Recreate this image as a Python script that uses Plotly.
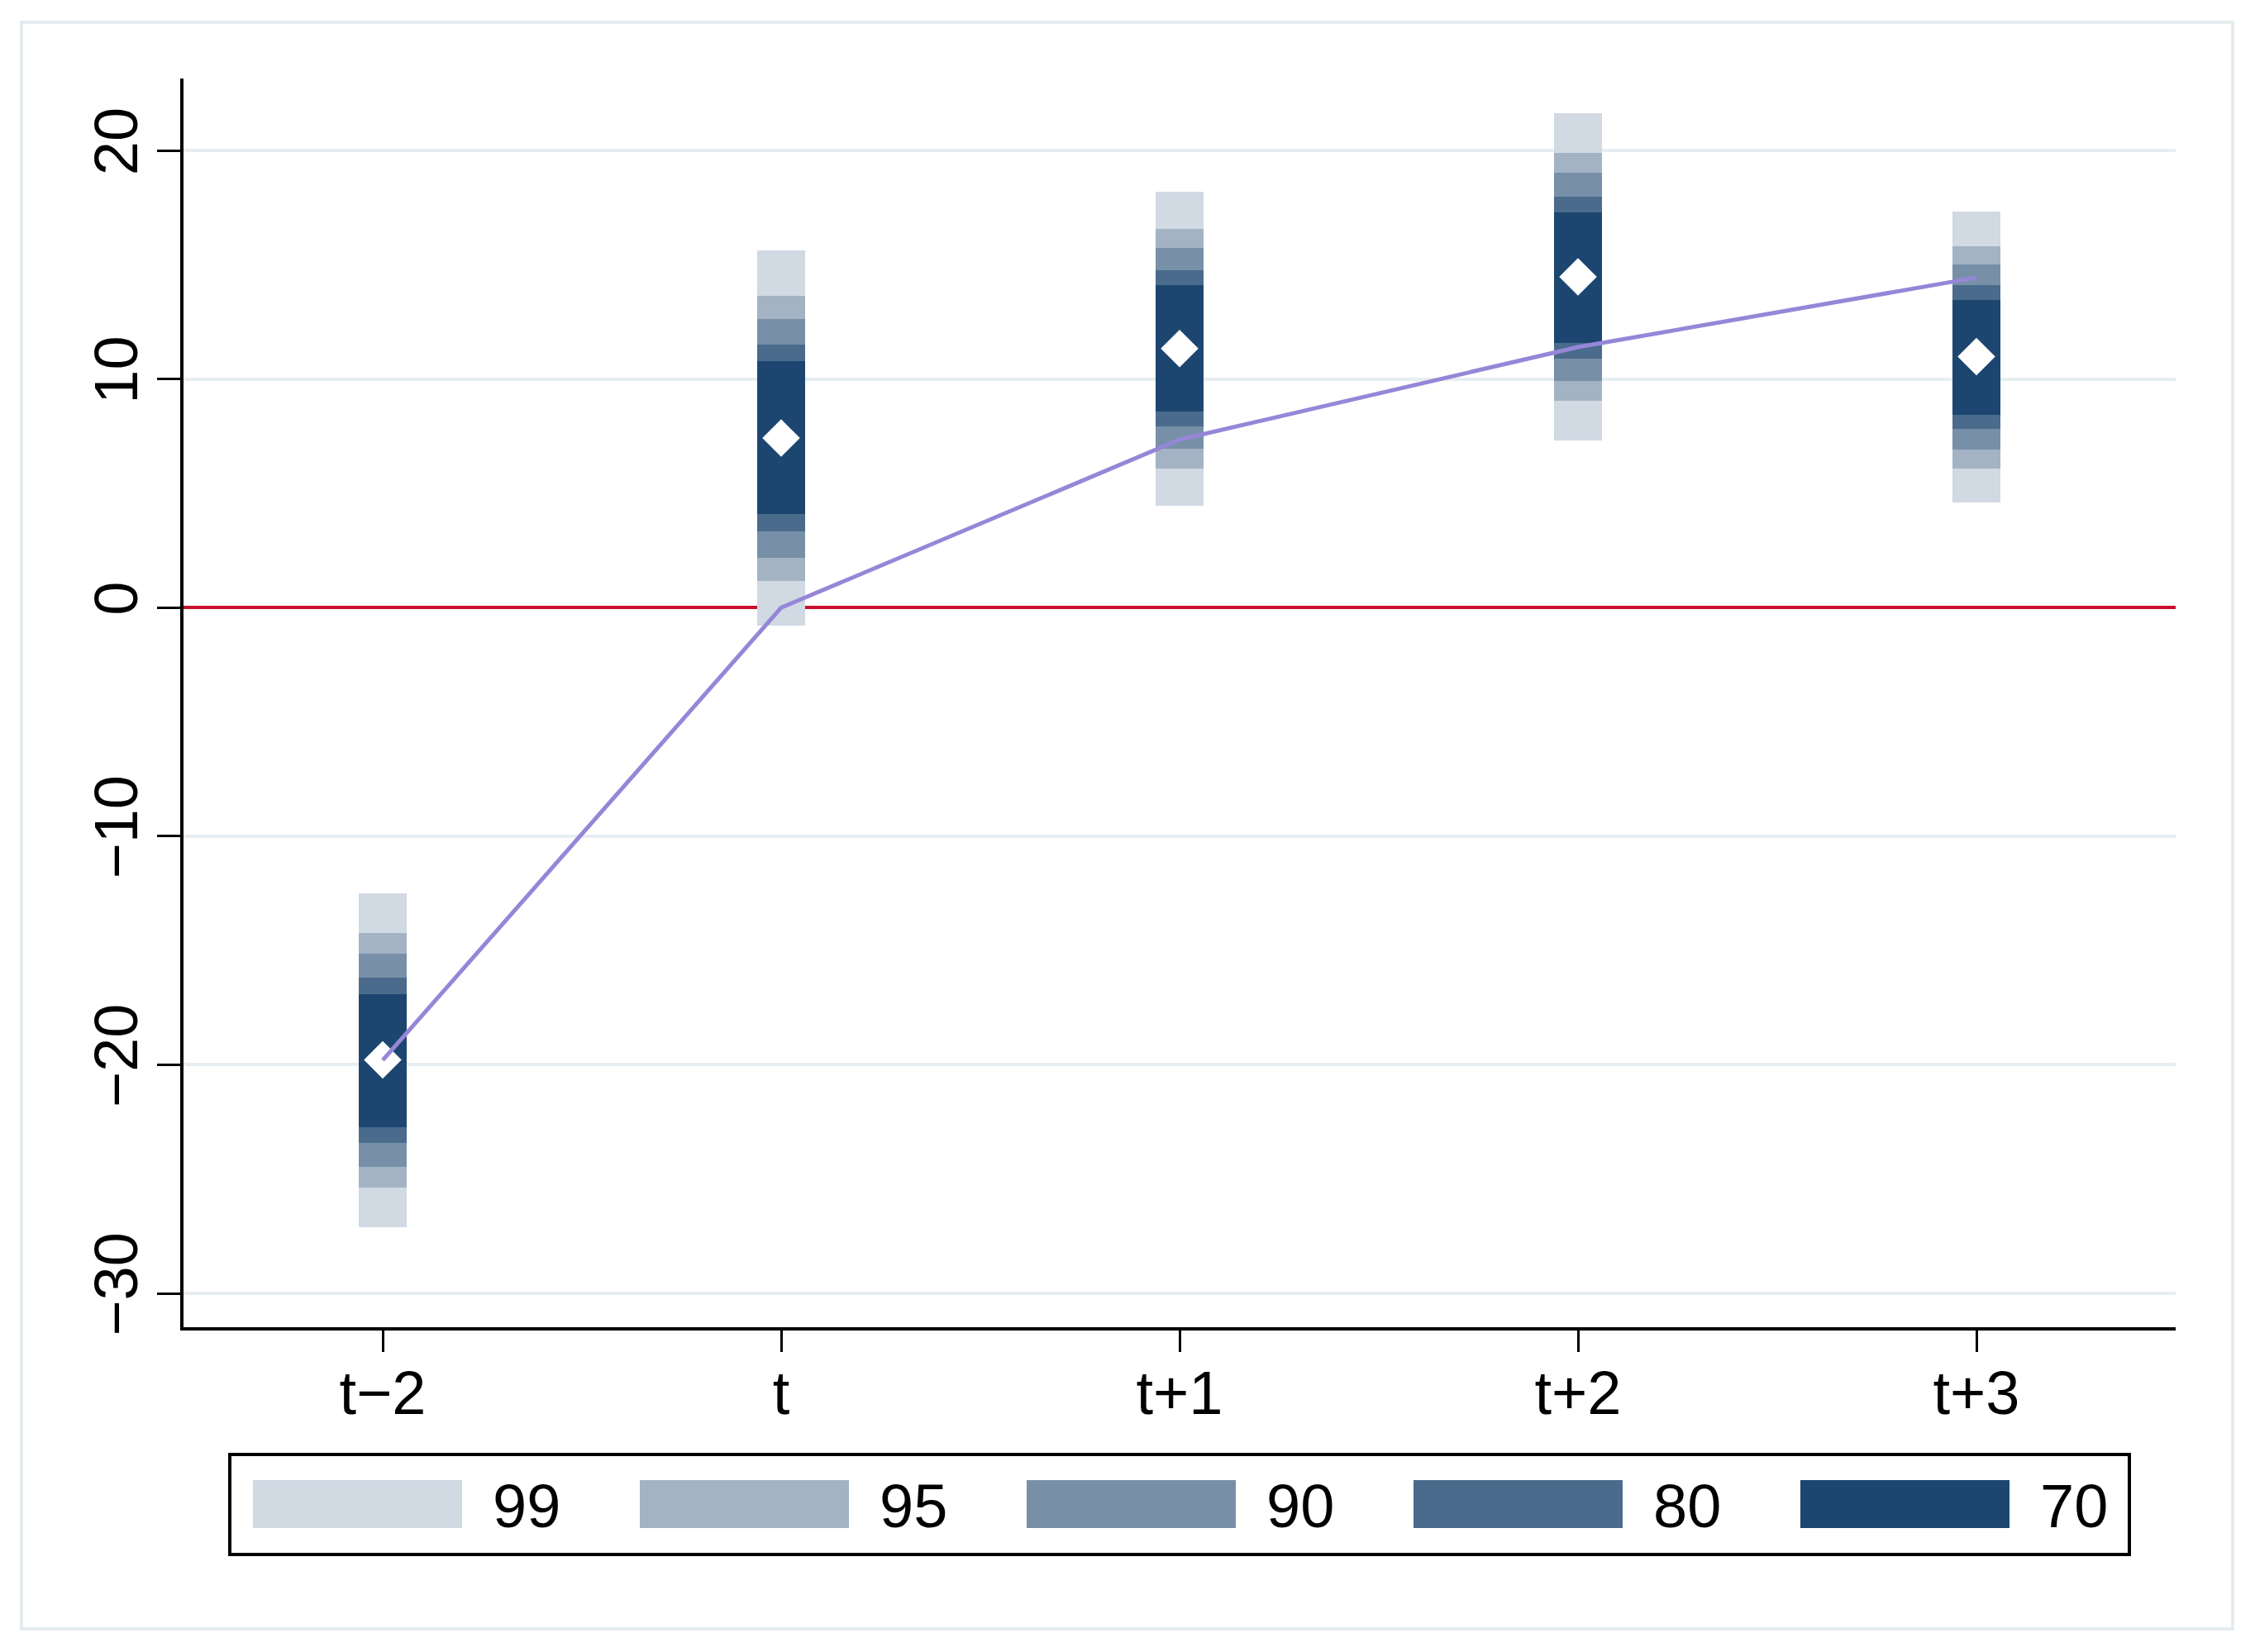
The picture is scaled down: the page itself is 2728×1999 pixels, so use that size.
import plotly.graph_objects as go

# ---- data ----
periods = ["t−2", "t", "t+1", "t+2", "t+3"]
levels = ["99", "95", "90", "80", "70"]
band_colors = ["#d1d9e3", "#a3b3c3", "#7790a8", "#4a6b8b", "#1c4670"]

lo99 = [-27.10, -0.77, 4.47, 7.30, 4.59]
hi99 = [-12.49, 15.64, 18.21, 21.62, 17.33]
lo95 = [-25.36, 1.16, 6.07, 9.05, 6.10]
hi95 = [-14.23, 13.65, 16.58, 19.90, 15.80]
lo90 = [-24.45, 2.18, 6.94, 9.93, 6.91]
hi90 = [-15.14, 12.63, 15.74, 19.02, 15.01]
lo80 = [-23.43, 3.35, 7.93, 10.91, 7.81]
hi80 = [-16.17, 11.52, 14.77, 17.97, 14.11]
lo70 = [-22.73, 4.11, 8.57, 11.58, 8.45]
hi70 = [-16.90, 10.77, 14.11, 17.30, 13.47]

coef = [-19.78, 7.42, 11.34, 14.47, 10.98]
path = [-19.80, 0.00, 7.35, 11.40, 14.44]

y_ticks = [-30, -20, -10, 0, 10, 20]

# ---- layout geometry (page pixels; the page body adds an 8px offset) ----
OFF = 8
W, H = 2728 - OFF, 1999 - OFF
L, R, T, B = 222 - OFF, 2632 - OFF, 95 - OFF, 1606 - OFF
FONT = "Liberation Sans, Arial, Helvetica, sans-serif"

xs = list(range(len(periods)))
bands = [(lo99, hi99), (lo95, hi95), (lo90, hi90), (lo80, hi80), (lo70, hi70)]

fig = go.Figure()

for (lo, hi), col, lev in zip(bands, band_colors, levels):
    fig.add_trace(go.Bar(
        x=xs, y=[h - l for l, h in zip(lo, hi)], base=lo,
        width=0.12, marker=dict(color=col, line=dict(width=0)),
        name=lev, showlegend=False,
    ))

fig.add_trace(go.Scatter(
    x=xs, y=coef, mode="markers",
    marker=dict(symbol="diamond", size=35, color="white", line=dict(width=0)),
    showlegend=False,
))
fig.add_trace(go.Scatter(
    x=xs, y=path, mode="lines",
    line=dict(color="#9686d8", width=5),
    showlegend=False,
))


def px_x(p):
    return (p - OFF - L) / (R - L)


def px_y(p):
    return (B - (p - OFF)) / (B - T)


# outer frame
fig.add_shape(type="rect", xref="paper", yref="paper",
              x0=px_x(26), x1=px_x(2701), y0=px_y(1971), y1=px_y(27),
              line=dict(color="#e4ecef", width=4), layer="below")

# legend box with wide swatches
fig.add_shape(type="rect", xref="paper", yref="paper",
              x0=px_x(278), x1=px_x(2576), y0=px_y(1881), y1=px_y(1760),
              line=dict(color="black", width=4))
for i, (lev, col) in enumerate(zip(levels, band_colors)):
    x0 = 306 + i * 468
    fig.add_shape(type="rect", xref="paper", yref="paper",
                  x0=px_x(x0), x1=px_x(x0 + 253), y0=px_y(1849), y1=px_y(1791),
                  line=dict(width=0), fillcolor=col)
    fig.add_annotation(xref="paper", yref="paper", x=px_x(x0 + 331), y=px_y(1822),
                       text=lev, showarrow=False, xanchor="center", yanchor="middle",
                       font=dict(size=74, color="black", family=FONT))

fig.update_layout(
    width=W, height=H,
    margin=dict(l=L, r=W - R, t=T, b=H - B),
    plot_bgcolor="white", paper_bgcolor="white",
    barmode="overlay", bargap=0,
    font=dict(family=FONT, color="black"),
    showlegend=False,
)
fig.update_xaxes(
    range=[-0.5, 4.5], tickvals=xs, ticktext=periods,
    showline=True, linecolor="black", linewidth=4,
    ticks="outside", ticklen=26, tickwidth=3, tickcolor="black",
    showgrid=False, zeroline=False, ticklabelstandoff=-14,
    tickfont=dict(size=74, family=FONT, color="black"),
)
fig.update_yaxes(
    range=[-31.48, 23.15], tickvals=y_ticks, tickangle=-90,
    showline=True, linecolor="black", linewidth=4,
    ticks="outside", ticklen=28, tickwidth=3, tickcolor="black",
    showgrid=True, gridcolor="#e6eef1", gridwidth=3.5,
    zeroline=True, zerolinecolor="#c8102e", zerolinewidth=4,
    ticklabelstandoff=-6,
    tickfont=dict(size=74, family=FONT, color="black"),
)

fig.write_html("out.html")
